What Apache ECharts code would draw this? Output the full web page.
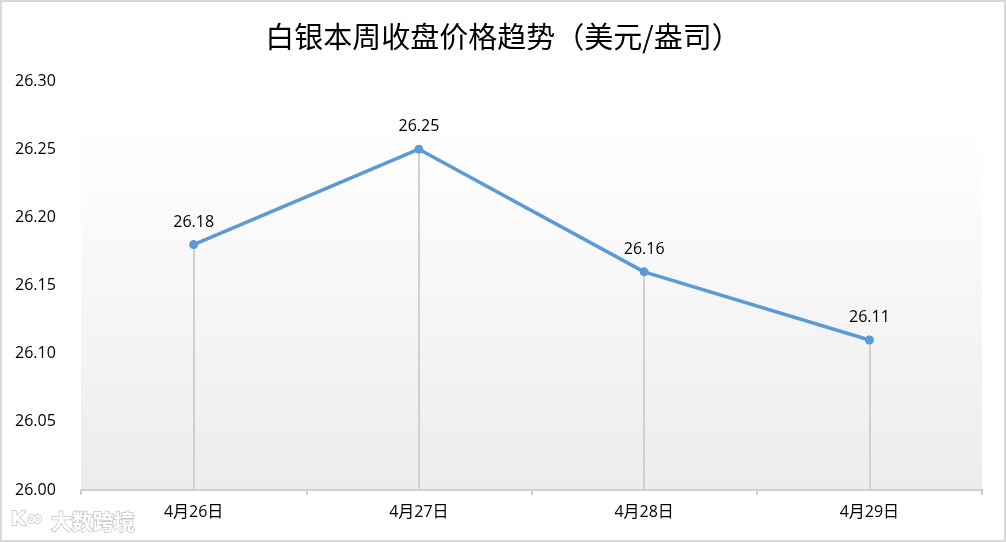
<!DOCTYPE html>
<html><head><meta charset="utf-8">
<script src="https://cdn.jsdelivr.net/npm/echarts@6/dist/echarts.min.js"></script>
<style>html,body{margin:0;padding:0;background:#fff}#c{width:1006px;height:542px;box-sizing:border-box;border:2px solid #d9d9d9}</style>
</head><body><div id="c"></div>
<script>
const categories = ['4月26日', '4月27日', '4月28日', '4月29日'];
const prices = [26.18, 26.25, 26.16, 26.11];
const yTicks = [26.00, 26.05, 26.10, 26.15, 26.20, 26.25, 26.30];
const titleText = '白银本周收盘价格趋势（美元/盎司）';

const font = '"Open Sans", "Noto Sans CJK SC", sans-serif';
const chart = echarts.init(document.getElementById('c'));
const yMin = yTicks[0], yMax = yTicks[yTicks.length - 1];
chart.setOption({
  animation: false,
  title: {
    text: titleText, left: 'center', top: 15,
    textStyle: { fontFamily: '"Noto Sans CJK SC", sans-serif', fontSize: 29, fontWeight: 'normal', color: '#000' }
  },
  grid: {
    left: 79, right: 22, top: 79, bottom: 50, show: true, borderWidth: 0,
    backgroundColor: { type: 'linear', x: 0, y: 0, x2: 0, y2: 1, colorStops: [
      { offset: 0, color: '#ffffff' }, { offset: 0.12, color: '#ffffff' }, { offset: 1, color: '#ececec' }] }
  },
  xAxis: {
    type: 'category', data: categories, boundaryGap: true,
    axisLine: { lineStyle: { color: '#d0d0d0', width: 2 } },
    axisTick: { show: true, length: 5, lineStyle: { color: '#d0d0d0', width: 2 } },
    axisLabel: { color: '#000', fontSize: 16, fontFamily: font, margin: 14 }
  },
  yAxis: {
    type: 'value', min: yMin, max: yMax, interval: 0.05,
    axisLine: { show: false }, axisTick: { show: false }, splitLine: { show: false },
    axisLabel: { color: '#000', fontSize: 16, fontFamily: font, align: 'left', margin: 66,
      formatter: v => v.toFixed(2) }
  },
  series: [{
    type: 'line', data: prices, symbol: 'circle', symbolSize: 9,
    lineStyle: { color: '#5b9bd5', width: 3.5 }, itemStyle: { color: '#5b9bd5' },
    label: { show: true, position: 'top', distance: 10, color: '#000', fontSize: 16, fontFamily: font,
      formatter: p => p.value.toFixed(2) },
    markLine: {
      silent: true, symbol: 'none', label: { show: false },
      lineStyle: { color: '#d0d0d0', width: 2, type: 'solid' },
      data: prices.map((v, i) => [{ coord: [i, v] }, { coord: [i, yMin] }])
    },
    z: 5
  }],
  graphic: [{
    type: 'text', left: 48, top: 508,
    style: { text: '大数跨境', fontSize: 21, fontWeight: 'bold', fontFamily: '"Noto Sans CJK SC", sans-serif',
      fill: '#ffffff', stroke: '#c4c4c4', lineWidth: 1.5 }
  }, {
    type: 'text', left: 8, top: 507,
    style: { text: 'K∞', fontSize: 20, fontWeight: 'bold', fontFamily: 'DejaVu Sans',
      fill: '#ffffff', stroke: '#c4c4c4', lineWidth: 1.5 }
  }]
});
</script></body></html>
